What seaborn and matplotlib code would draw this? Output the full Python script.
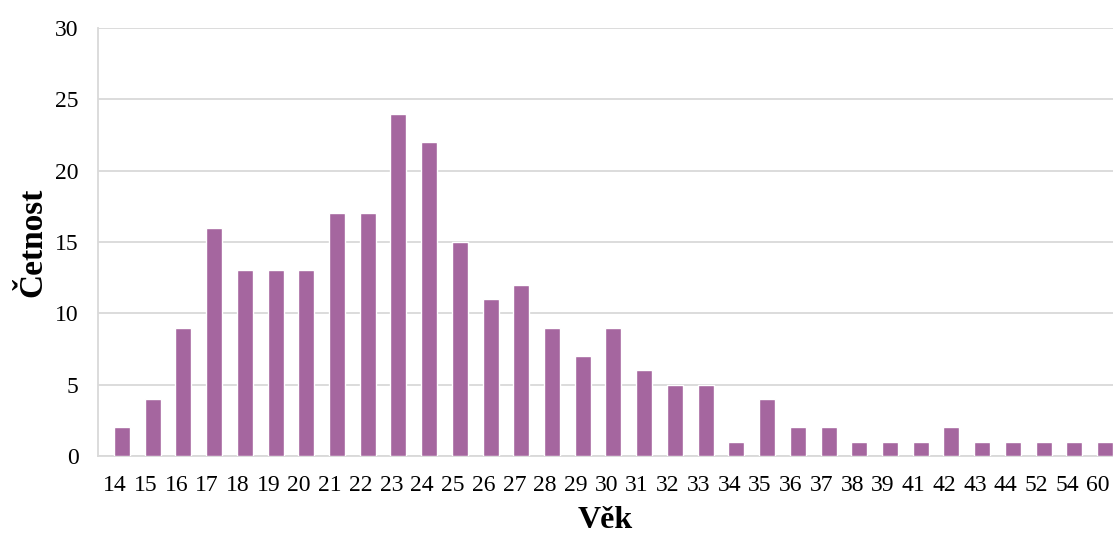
import matplotlib
matplotlib.use('Agg')
import matplotlib.pyplot as plt
import matplotlib.transforms as mtransforms
import pandas as pd
import seaborn as sns

# data
vek = ['14', '15', '16', '17', '18', '19', '20', '21', '22', '23', '24', '25',
       '26', '27', '28', '29', '30', '31', '32', '33', '34', '35', '36', '37',
       '38', '39', '41', '42', '43', '44', '52', '54', '60']
cetnost = [2, 4, 9, 16, 13, 13, 13, 17, 17, 24, 22, 15,
           11, 12, 9, 7, 9, 6, 5, 5, 1, 4, 2, 2,
           1, 1, 1, 2, 1, 1, 1, 1, 1]

df = pd.DataFrame({'Věk': vek, 'Četnost': cetnost})

sns.set_style('white')
plt.rcParams['font.family'] = ['Liberation Serif', 'DejaVu Serif']
plt.rcParams['text.color'] = 'black'
plt.rcParams['axes.labelcolor'] = 'black'
plt.rcParams['xtick.color'] = 'black'
plt.rcParams['ytick.color'] = 'black'

fig = plt.figure(figsize=(11.13, 5.37), dpi=100)
ax = fig.add_axes([0.088, 0.151, 0.912, 0.797])

sns.barplot(data=df, x='Věk', y='Četnost', color='#a5669f', saturation=1,
            width=0.52, ax=ax, zorder=3)

ax.set_ylim(0, 30)
ax.set_yticks(range(0, 31, 5))
ax.set_xlim(-0.78, len(vek) - 0.74)
ax.yaxis.grid(True, color='#d9d9d9', linewidth=1.3, zorder=0)
ax.set_axisbelow(True)
for s in ['top', 'right']:
    ax.spines[s].set_visible(False)
for s in ['left', 'bottom']:
    ax.spines[s].set_color('#d9d9d9')
    ax.spines[s].set_linewidth(1.3)
ax.tick_params(axis='x', length=0, labelsize=17, pad=14)
ax.tick_params(axis='y', length=0, labelsize=17, pad=14)

# labels sit a bit left of the bars, like in the original
shift = mtransforms.ScaledTranslation(-0.07, 0, fig.dpi_scale_trans)
for lbl in ax.get_xticklabels():
    lbl.set_transform(lbl.get_transform() + shift)

ax.set_xlabel('Věk', fontsize=23, fontweight='bold', labelpad=7)
ax.set_ylabel('Četnost', fontsize=24, fontweight='bold', labelpad=5)

fig.savefig('out.png', dpi=100)
